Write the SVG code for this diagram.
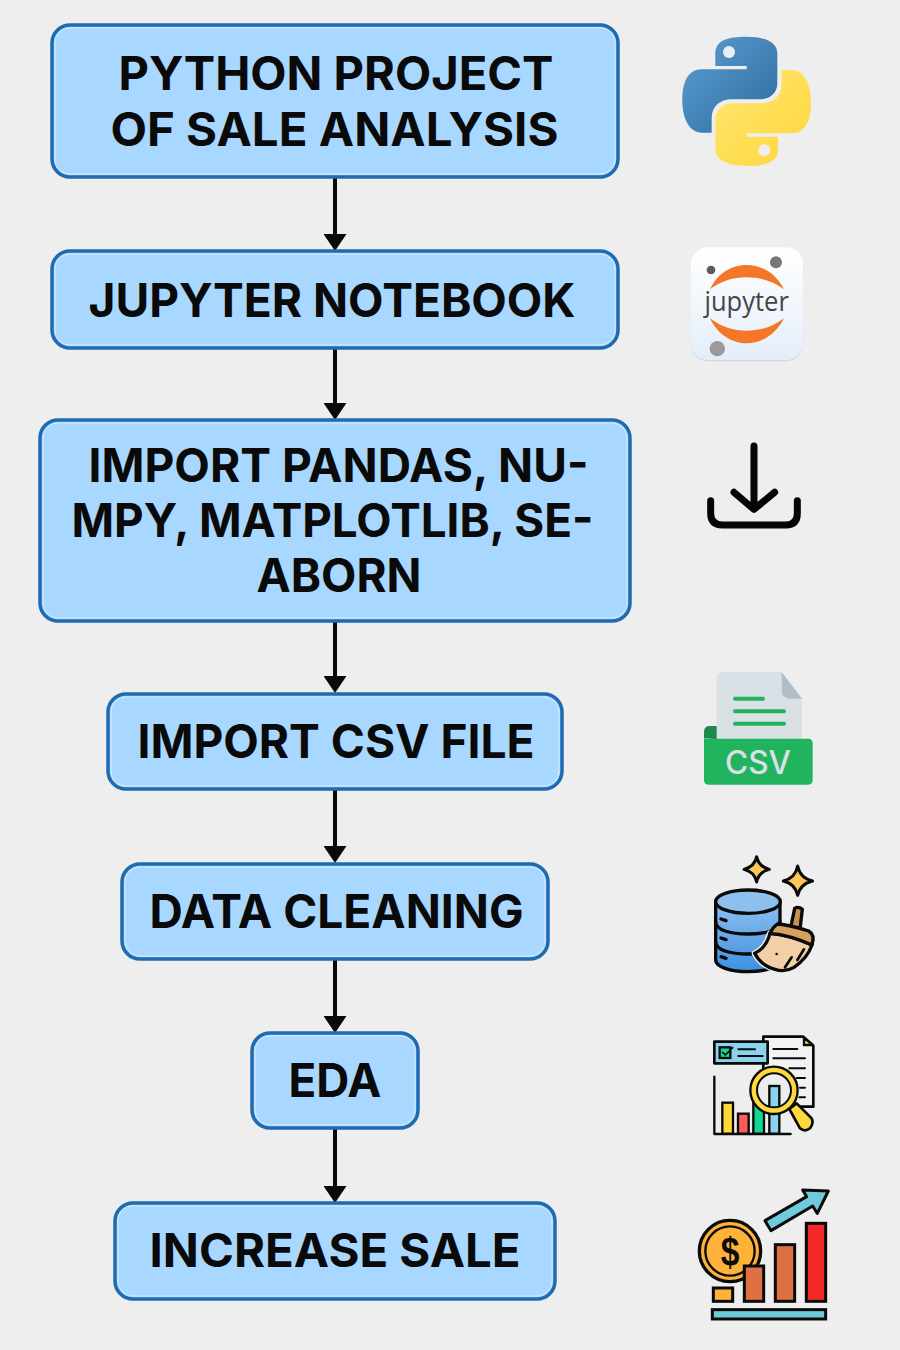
<svg xmlns="http://www.w3.org/2000/svg" width="900" height="1350" viewBox="0 0 900 1350">
<style>
.box{fill:#a8d8ff;stroke:#1f6bb0;stroke-width:3.500}
.inner{fill:none;stroke:#d2ebff;stroke-width:1}
.lbl{font-family:"Inter","Roboto","Liberation Sans",sans-serif;font-weight:700;font-size:47px;fill:#0a0a0a;text-anchor:middle}
.k{stroke:#0a0a0a;stroke-linejoin:round;stroke-linecap:round}
</style>
<defs>
<marker id="ahd" markerUnits="userSpaceOnUse" markerWidth="23" markerHeight="17" viewBox="0 0 23 17" refX="11.500" refY="0" orient="0"><path d="M0 0H23L11.500 17Z" fill="#0a0a0a"/></marker>
<linearGradient id="pb" x1="0" y1="0" x2="1" y2="1"><stop offset="0" stop-color="#5a9fd4"/><stop offset="1" stop-color="#2f6a9c"/></linearGradient>
<linearGradient id="py" x1="0" y1="0" x2="1" y2="1"><stop offset="0" stop-color="#ffe873"/><stop offset="1" stop-color="#ffd43b"/></linearGradient>
<linearGradient id="jb" x1="0" y1="0" x2="0" y2="1"><stop offset="0" stop-color="#ffffff"/><stop offset="1" stop-color="#e4eefa"/></linearGradient>
<linearGradient id="db" x1="0" y1="0" x2="0" y2="1"><stop offset="0" stop-color="#8dc0ef"/><stop offset="1" stop-color="#3f90e0"/></linearGradient>
</defs>
<rect width="900" height="1350" fill="#eeeeee"/>
<g id="connectors">
<path d="M335 177V234" stroke="#0a0a0a" stroke-width="4" marker-end="url(#ahd)"/>
<path d="M335 348V403" stroke="#0a0a0a" stroke-width="4" marker-end="url(#ahd)"/>
<path d="M335 621V676" stroke="#0a0a0a" stroke-width="4" marker-end="url(#ahd)"/>
<path d="M335 789V846" stroke="#0a0a0a" stroke-width="4" marker-end="url(#ahd)"/>
<path d="M335 959V1016" stroke="#0a0a0a" stroke-width="4" marker-end="url(#ahd)"/>
<path d="M335 1128V1186" stroke="#0a0a0a" stroke-width="4" marker-end="url(#ahd)"/>
</g>
<g id="node-python"><rect class="box" x="52" y="25" width="566" height="152" rx="18"/><rect class="inner" x="55" y="28" width="560" height="146" rx="15"/>
<text class="lbl" x="336" y="90" textLength="435" lengthAdjust="spacingAndGlyphs">PYTHON PROJECT</text><text class="lbl" x="334.500" y="146" textLength="448" lengthAdjust="spacingAndGlyphs">OF SALE ANALYSIS</text></g>
<g id="node-jupyter"><rect class="box" x="52" y="251" width="566" height="97" rx="18"/><rect class="inner" x="55" y="254" width="560" height="91" rx="15"/>
<text class="lbl" x="332" y="317" textLength="487" lengthAdjust="spacingAndGlyphs">JUPYTER NOTEBOOK</text></g>
<g id="node-import"><rect class="box" x="40" y="420" width="590" height="201" rx="18"/><rect class="inner" x="43" y="423" width="584" height="195" rx="15"/>
<text class="lbl" x="338.500" y="482" textLength="500" lengthAdjust="spacingAndGlyphs">IMPORT PANDAS, NU-</text><text class="lbl" x="332.500" y="537" textLength="522" lengthAdjust="spacingAndGlyphs">MPY, MATPLOTLIB, SE-</text><text class="lbl" x="339" y="592" textLength="165" lengthAdjust="spacingAndGlyphs">ABORN</text></g>
<g id="node-csv"><rect class="box" x="108" y="694" width="454" height="95" rx="18"/><rect class="inner" x="111" y="697" width="448" height="89" rx="15"/>
<text class="lbl" x="336" y="758" textLength="397" lengthAdjust="spacingAndGlyphs">IMPORT CSV FILE</text></g>
<g id="node-clean"><rect class="box" x="122" y="864" width="426" height="95" rx="18"/><rect class="inner" x="125" y="867" width="420" height="89" rx="15"/>
<text class="lbl" x="336.500" y="928" textLength="374" lengthAdjust="spacingAndGlyphs">DATA CLEANING</text></g>
<g id="node-eda"><rect class="box" x="252" y="1033" width="166" height="95" rx="18"/><rect class="inner" x="255" y="1036" width="160" height="89" rx="15"/>
<text class="lbl" x="335" y="1097" textLength="93" lengthAdjust="spacingAndGlyphs">EDA</text></g>
<g id="node-sale"><rect class="box" x="115" y="1203" width="440" height="96" rx="18"/><rect class="inner" x="118" y="1206" width="434" height="90" rx="15"/>
<text class="lbl" x="335" y="1267" textLength="371" lengthAdjust="spacingAndGlyphs">INCREASE SALE</text></g>

<g id="icon-python" transform="translate(660 20) scale(.3333)">
<path d="M260 50C200 50 166 62 166 100V138H260V148H125C85 148 67 185 67 240C67 300 90 338 125 338H155V295C155 260 180 238 215 238H300C335 238 352 215 352 190V100C352 70 320 50 260 50Z" fill="url(#pb)"/>
<path d="M260 438C320 438 354 426 354 388V350H260V340H395C435 340 453 303 453 248C453 188 430 150 395 150H365V193C365 228 340 250 305 250H220C185 250 166 273 166 298V388C166 418 200 438 260 438Z" fill="url(#py)"/>
<circle cx="207" cy="96" r="18" fill="#eeeeee"/><circle cx="313" cy="391" r="18" fill="#eeeeee"/>
</g>
<g id="icon-jupyter" transform="translate(660 20) scale(.3333)">
<rect x="92" y="682" width="338" height="338" rx="52" fill="#d5d9df" transform="translate(0 4)"/>
<rect x="92" y="682" width="338" height="338" rx="52" fill="url(#jb)"/>
<path d="M150 808C175 755 220 735 260 735C300 735 345 755 372 808C335 782 300 772 260 772C220 772 185 782 150 808Z" fill="#f37726"/>
<path d="M150 895C175 948 220 970 260 970C300 970 345 948 372 895C335 922 300 932 260 932C220 932 185 922 150 895Z" fill="#f37726"/>
<circle cx="348" cy="727" r="18" fill="#777777"/><circle cx="153" cy="750" r="13" fill="#5a5a5a"/><circle cx="172" cy="986" r="23" fill="#9a9a9a"/>
<text x="260" y="873" font-family="Open Sans,Noto Sans,sans-serif" font-size="80" fill="#454545" text-anchor="middle" textLength="253" lengthAdjust="spacingAndGlyphs">jupyter</text>
</g>
<g id="icon-download" transform="translate(680 430) scale(.3333)" fill="none" stroke="#050505" stroke-width="21" stroke-linecap="round" stroke-linejoin="round">
<path d="M222 48V238M162 187L222 238L284 187"/><path d="M92 212V250Q92 285 127 285H318Q352 285 352 250V212"/>
</g>
<g id="icon-csvfile" transform="translate(680 430) scale(.3333)">
<path d="M72 925V905Q72 888 90 888H115V928Z" fill="#1b8a4a"/>
<path d="M110 940V745Q110 726 130 726H305L366 806V940Z" fill="#d9e1e6"/>
<path d="M305 726L366 806H330Q305 806 305 780Z" fill="#b0bec8"/>
<path d="M165 806H249M165 844H312M165 881H312" stroke="#22b35e" stroke-width="12" stroke-linecap="round"/>
<path d="M72 925C80 928 95 928 110 926H385Q398 926 398 940V1050Q398 1064 385 1064H86Q72 1064 72 1050Z" fill="#22b35e"/>
<text x="234" y="1031" font-family="Inter,Roboto,sans-serif" font-weight="500" font-size="96" fill="#d9e1e6" text-anchor="middle" textLength="198" lengthAdjust="spacingAndGlyphs">CSV</text>
</g>
<g id="icon-clean" transform="translate(690 850) scale(.3333)">
<path class="k" d="M200 20Q206 50 238 58Q206 66 200 96Q194 66 162 58Q194 50 200 20Z" fill="#fbc65a" stroke-width="9"/>
<path class="k" d="M323 48Q330 84 368 93Q330 102 323 136Q316 102 280 93Q316 84 323 48Z" fill="#fbc65a" stroke-width="9"/>
<path class="k" d="M77 155V330C77 350 120 365 174 365C228 365 270 350 270 330V155Z" fill="url(#db)" stroke-width="10"/>
<ellipse class="k" cx="174" cy="155" rx="97" ry="35" fill="#8dc0ef" stroke-width="10"/>
<path class="k" d="M77 215C77 240 120 252 174 252C228 252 270 240 270 215M77 275C77 300 120 312 174 312C228 312 270 300 270 275" fill="none" stroke-width="10"/>
<path class="k" d="M93 207L108 212M93 264L108 269M93 320L108 325" fill="none" stroke-width="10"/>
<path class="k" d="M303 228L314 175Q325 168 337 178L330 238Z" fill="#c98f50" stroke-width="10"/>
<path d="M240 250Q300 255 366 285Q352 325 312 352Q285 368 255 358Q213 347 194 310Q228 295 240 250Z" fill="none" stroke="#eeeeee" stroke-width="18" stroke-linejoin="round"/>
<path class="k" d="M240 250Q300 255 366 285Q352 325 312 352Q285 368 255 358Q213 347 194 310Q228 295 240 250Z" fill="#f3cfa8" stroke-width="10"/>
<path class="k" d="M262 222Q300 225 356 243Q376 254 366 285Q300 255 240 250Q248 232 262 222Z" fill="#d99f5f" stroke-width="10"/>
<path class="k" d="M305 322L285 352M260 312L260 312M342 298L322 330" fill="none" stroke-width="8"/>
</g>
<g id="icon-eda" transform="translate(700 1025) scale(.3333)">
<path class="k" d="M190 35H310L340 62V245H190Z" fill="#f2f2f2" stroke-width="8"/>
<path class="k" d="M312 38V60H338Z" fill="#ffd93b" stroke-width="7"/>
<path class="k" d="M220 72H292M220 100H315M268 130H315M290 159H315M300 188H315M298 217H315" fill="none" stroke-width="6"/>
<rect class="k" x="43" y="50" width="160" height="65" fill="#8ad4ee" stroke-width="8"/>
<rect x="59" y="67" width="32" height="32" fill="#10d98f" stroke="#0a0a0a" stroke-width="7"/>
<path class="k" d="M68 82L76 90L98 68" fill="none" stroke-width="5"/>
<path class="k" d="M115 73H165M115 93H188" fill="none" stroke-width="6"/>
<path class="k" d="M43 155V327H272" fill="none" stroke-width="7"/>
<rect x="67" y="233" width="32" height="93" fill="#ffd93b" stroke="#0a0a0a" stroke-width="7"/>
<rect x="114" y="266" width="32" height="60" fill="#ff5c5c" stroke="#0a0a0a" stroke-width="7"/>
<rect x="160" y="222" width="32" height="104" fill="#10d98f" stroke="#0a0a0a" stroke-width="7"/>
<path class="k" d="M268 252L290 235L335 280Q342 295 330 310Q315 322 300 310Z" fill="#ffd93b" stroke-width="8"/>
<circle cx="222" cy="196" r="70" fill="#ececec"/>
<rect x="208" y="183" width="30" height="143" fill="#8ad4ee" stroke="#0a0a0a" stroke-width="7"/>
<circle cx="222" cy="196" r="61" fill="none" stroke="#ffd93b" stroke-width="18"/>
<circle cx="222" cy="196" r="71" fill="none" stroke="#0a0a0a" stroke-width="7"/>
<circle cx="222" cy="196" r="51" fill="none" stroke="#0a0a0a" stroke-width="6"/>
</g>
<g id="icon-sale" transform="translate(690 1180) scale(.3333)">
<circle cx="120" cy="213" r="92" fill="#ffb238" stroke="#0a0a0a" stroke-width="10"/>
<circle cx="120" cy="213" r="74" fill="none" stroke="#0a0a0a" stroke-width="7"/>
<text x="120" y="258" font-family="Liberation Sans,sans-serif" font-weight="700" font-size="122" fill="#0a0a0a" text-anchor="middle" textLength="56" lengthAdjust="spacingAndGlyphs">$</text>
<rect x="70" y="324" width="58" height="40" fill="#ffb238" stroke="#0a0a0a" stroke-width="9"/>
<rect x="163" y="258" width="58" height="106" fill="#dd7045" stroke="#0a0a0a" stroke-width="9"/>
<rect x="256" y="194" width="58" height="170" fill="#dd7045" stroke="#0a0a0a" stroke-width="9"/>
<rect x="349" y="130" width="58" height="234" fill="#f22b26" stroke="#0a0a0a" stroke-width="9"/>
<rect x="67" y="389" width="340" height="28" fill="#6fcbdc" stroke="#0a0a0a" stroke-width="9"/>
<path class="k" d="M225 122L350 50L338 30L415 33L382 100L368 78L243 152Z" fill="#6fcbdc" stroke-width="9"/>
</g>
</svg>
